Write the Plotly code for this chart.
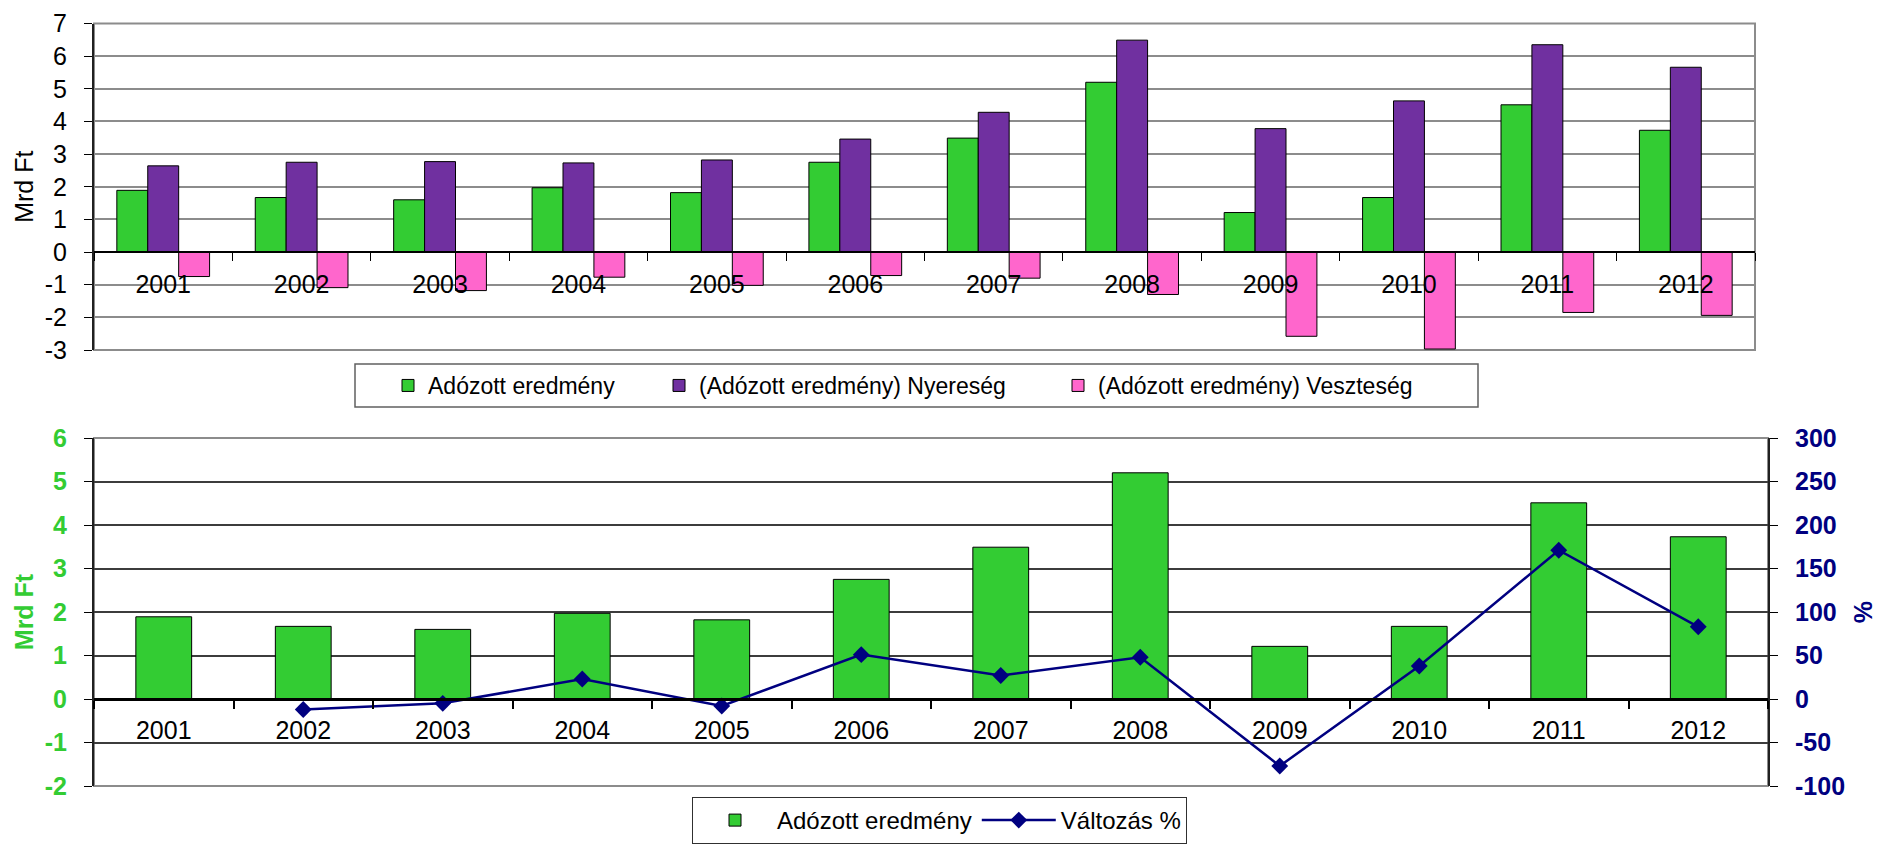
import plotly.graph_objects as go

# ---------------- data ----------------
years = ["2001", "2002", "2003", "2004", "2005", "2006",
         "2007", "2008", "2009", "2010", "2011", "2012"]
adozott = [1.89, 1.67, 1.60, 1.97, 1.82, 2.75, 3.49, 5.20, 1.21, 1.67, 4.51, 3.73]
nyereseg = [2.64, 2.75, 2.77, 2.73, 2.82, 3.46, 4.28, 6.49, 3.78, 4.63, 6.35, 5.66]
veszteseg = [-0.75, -1.09, -1.18, -0.77, -1.02, -0.72, -0.80, -1.30, -2.58, -2.97, -1.85, -1.94]
valtozas = [None, -12, -5, 23, -8, 51, 27, 48, -77, 38, 171, 83]

name_adozott = "Adózott eredmény"
name_nyer = "(Adózott eredmény) Nyereség"
name_veszt = "(Adózott eredmény) Veszteség"
name_valt = "Változás %"
y1_title = "Mrd Ft"
y3_title = "%"

top_tickvals = [-3, -2, -1, 0, 1, 2, 3, 4, 5, 6, 7]
top_ticktext = ["-3", "-2", "-1", "0", "1", "2", "3", "4", "5", "6", "7"]
bot_tickvals = [-2, -1, 0, 1, 2, 3, 4, 5, 6]
bot_ticktext = ["-2", "-1", "0", "1", "2", "3", "4", "5", "6"]
pct_tickvals = [-100, -50, 0, 50, 100, 150, 200, 250, 300]
pct_ticktext = ["-100", "-50", "0", "50", "100", "150", "200", "250", "300"]

# ---------------- layout helpers ----------------
W, H = 1883, 847
FONT = "Liberation Sans, Arial, sans-serif"
GREEN = "#33CC33"
PURPLE = "#7030A0"
PINK = "#FF66CC"
NAVY = "#000080"


def fx(px):
    return px / W


def fy(py):
    return 1 - py / H


top_dom_y = [fy(350), fy(23.5)]
top_range = [-3, 7]
top_zero = top_dom_y[0] + (0 - top_range[0]) / (top_range[1] - top_range[0]) * (top_dom_y[1] - top_dom_y[0])

bot_dom_y = [fy(786), fy(438)]
bot_range = [-2, 6]
bot_zero = bot_dom_y[0] + (0 - bot_range[0]) / (bot_range[1] - bot_range[0]) * (bot_dom_y[1] - bot_dom_y[0])

cat_range = [-0.5, len(years) - 0.5]

fig = go.Figure()

outline = dict(color="black", width=1)
fig.add_trace(go.Bar(x=years, y=adozott, name=name_adozott, marker=dict(color=GREEN, line=outline),
                     xaxis="x", yaxis="y", legend="legend"))
fig.add_trace(go.Bar(x=years, y=nyereseg, name=name_nyer, marker=dict(color=PURPLE, line=outline),
                     xaxis="x", yaxis="y", legend="legend3"))
fig.add_trace(go.Bar(x=years, y=veszteseg, name=name_veszt, marker=dict(color=PINK, line=outline),
                     xaxis="x", yaxis="y", legend="legend4"))

fig.add_trace(go.Bar(x=years, y=adozott, name=name_adozott, width=0.4,
                     marker=dict(color=GREEN, line=outline),
                     xaxis="x2", yaxis="y2", legend="legend2"))
fig.add_trace(go.Scatter(x=years, y=valtozas, name=name_valt, mode="lines+markers",
                         line=dict(color=NAVY, width=2.5),
                         marker=dict(symbol="diamond", size=13, color=NAVY),
                         xaxis="x2", yaxis="y3", legend="legend2"))

tick_font = dict(family=FONT, size=25, color="black")
top_leg_font = dict(family=FONT, size=23, color="black")


def top_legend(px_left):
    return dict(x=fx(px_left), y=fy(385.5), xanchor="left", yanchor="middle", orientation="h",
                bgcolor="rgba(0,0,0,0)", borderwidth=0, font=top_leg_font)


fig.update_layout(
    width=W, height=H,
    margin=dict(l=0, r=0, t=0, b=0, autoexpand=False),
    paper_bgcolor="white", plot_bgcolor="white",
    font=dict(family=FONT, size=24, color="black"),
    barmode="group", bargap=0.33, bargroupgap=0,
    showlegend=True,
    xaxis=dict(domain=[fx(94), fx(1755)], anchor="free", position=top_zero,
               type="category", range=cat_range, showgrid=False, showline=True,
               linecolor="black", linewidth=2,
               ticks="outside", tickson="boundaries", ticklen=8, tickcolor="black", tickwidth=1,
               tickfont=tick_font, ticklabelstandoff=10),
    yaxis=dict(domain=top_dom_y, anchor="x", range=top_range,
               tickmode="array", tickvals=top_tickvals, ticktext=top_ticktext,
               showgrid=True, gridcolor="#8c8c8c", gridwidth=2, zeroline=False,
               showline=True, linecolor="#202020", linewidth=2,
               ticks="outside", ticklen=8, tickcolor="black", tickfont=tick_font,
               ticklabelstandoff=12,
               title=dict(text=y1_title, font=dict(family=FONT, size=25, color="black"), standoff=4)),
    xaxis2=dict(domain=[fx(94), fx(1768)], anchor="free", position=bot_zero,
                type="category", range=cat_range, showgrid=False, showline=True,
                linecolor="black", linewidth=3,
                ticks="outside", tickson="boundaries", ticklen=8, tickcolor="black", tickwidth=1.5,
                tickfont=tick_font, ticklabelstandoff=8),
    yaxis2=dict(domain=bot_dom_y, anchor="x2", range=bot_range,
                tickmode="array", tickvals=bot_tickvals, ticktext=bot_ticktext,
                showgrid=True, gridcolor="#3c3c3c", gridwidth=1.5, zeroline=False,
                showline=True, linecolor="#202020", linewidth=2,
                ticks="outside", ticklen=8, tickcolor="black",
                tickfont=dict(family=FONT, size=25, color=GREEN, weight="bold"),
                ticklabelstandoff=12,
                title=dict(text=y1_title, font=dict(family=FONT, size=25, color=GREEN, weight="bold"),
                           standoff=4)),
    yaxis3=dict(overlaying="y2", side="right", anchor="x2", range=[-100, 300],
                tickmode="array", tickvals=pct_tickvals, ticktext=pct_ticktext,
                showgrid=False, zeroline=False,
                showline=True, linecolor="#202020", linewidth=2,
                ticks="outside", ticklen=8, tickcolor="black",
                tickfont=dict(family=FONT, size=25, color=NAVY, weight="bold"),
                ticklabelstandoff=12,
                title=dict(text=y3_title, font=dict(family=FONT, size=25, color=NAVY, weight="bold"),
                           standoff=10)),
    legend=top_legend(388),
    legend3=top_legend(659),
    legend4=top_legend(1058),
    legend2=dict(x=fx(692), y=fy(797), xanchor="left", yanchor="top", orientation="h",
                 bgcolor="white", bordercolor="#303030", borderwidth=1, itemwidth=74,
                 font=dict(family=FONT, size=24, color="black")),
    shapes=[
        dict(type="rect", xref="x domain", yref="y domain", x0=0, x1=1, y0=0, y1=1,
             line=dict(color="#8c8c8c", width=2), layer="below"),
        dict(type="rect", xref="x2 domain", yref="y2 domain", x0=0, x1=1, y0=0, y1=1,
             line=dict(color="#8c8c8c", width=2), layer="below"),
        # frame of the upper legend
        dict(type="rect", xref="paper", yref="paper", x0=fx(355), x1=fx(1478), y0=fy(407), y1=fy(364),
             line=dict(color="#606060", width=1.5), fillcolor="rgba(0,0,0,0)", layer="below"),
    ],
)

fig.write_html("out.html", config={"displayModeBar": False},
               post_script="document.body.style.margin='0';document.body.style.overflow='hidden';")
